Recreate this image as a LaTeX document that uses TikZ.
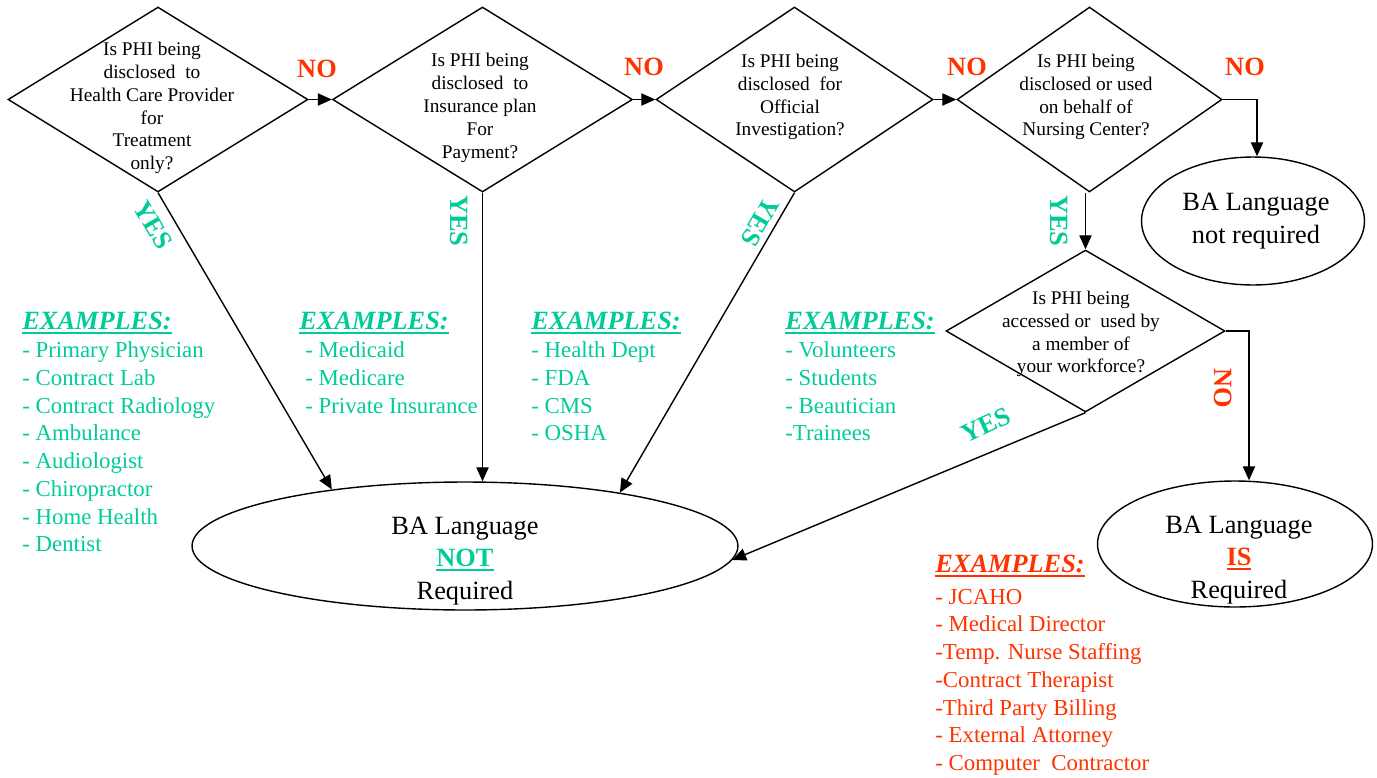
\documentclass[tikz,border=0pt]{standalone}
\usepackage{fontspec}
\setmainfont{Liberation Serif}
\usetikzlibrary{shapes.geometric}
\usetikzlibrary{arrows.meta}
\usepackage{xcolor}
\definecolor{grn}{RGB}{0,204,153}
\definecolor{rd}{RGB}{255,51,0}
\newcommand{\uln}[1]{\setbox0=\hbox{#1}\rlap{\rule[-2.2pt]{\wd0}{1pt}}\box0}
\newcommand{\exhead}{{\fontsize{15}{15.8}\selectfont\uln{\textbf{\textit{EXAMPLES:}}}}}

\begin{document}
\begin{tikzpicture}[x=0.02cm,y=-0.02cm,
    every node/.style={inner sep=0pt},
    question/.style={diamond,draw,line width=0.8pt,minimum height=3.7cm},
    answer/.style={ellipse,draw,line width=0.8pt},
    qtext/.style={font=\fontsize{11}{13}\selectfont,align=center},
    atext/.style={font=\fontsize{15}{18.4}\selectfont,align=center},
    yes/.style={text=grn,font=\fontsize{15}{15}\selectfont\bfseries},
    no/.style={text=rd,font=\fontsize{15}{15}\selectfont\bfseries},
    examples/.style={font=\fontsize{13}{15.8}\selectfont,align=left,anchor=north west},
    arr/.style={-{Triangle[length=8pt,width=7pt]},line width=0.8pt}]
  \useasboundingbox (0,0) rectangle (1377,778);

  % questions
  \node[question,minimum width=6cm] (d1) at (158,99.5) {};
  \node[question,minimum width=6cm] (d2) at (482.5,99.5) {};
  \node[question,minimum width=5.54cm] (d3) at (794.5,99.5) {};
  \node[question,minimum width=5.3cm] (d4) at (1089.5,99.5) {};
  \node[question,minimum width=5.58cm,minimum height=3.24cm] (d5) at (1085.5,331) {};

  \node[qtext] (q1) at (152,108) {Is PHI being\\disclosed\ \ to\\Health Care Provider\\for\\Treatment\\only?};
  \node[qtext] (q2) at (480,108) {Is PHI being\\disclosed\ \ to\\Insurance plan\\For\\Payment?};
  \node[qtext] (q3) at (790,97) {Is PHI being\\disclosed\ \ for\\Official\\Investigation?};
  \node[qtext] (q4) at (1086,97) {Is PHI being\\disclosed or used\\on behalf of\\Nursing Center?};
  \node[qtext] (q5) at (1081,334) {Is PHI being\\accessed or\ \ used by\\a member of\\your workforce?};

  % answers
  \node[answer,minimum width=10.92cm,minimum height=2.56cm] (e1) at (465,546) {};
  \node[answer,minimum width=4.46cm,minimum height=2.56cm] (e2) at (1253,221) {};
  \node[answer,minimum width=5.5cm,minimum height=2.52cm] (e3) at (1235,544) {};

  \node[atext] (a1) at (465,561) {BA Language\\{\color{grn}\uln{\textbf{NOT}}}\\Required};
  \node[atext] (a2) at (1256,221) {BA Language\\not required};
  \node[atext] (a3) at (1239,560) {BA Language\\{\color{rd}\uln{\textbf{IS}}}\\Required};

  % connectors
  \draw[arr] (d1.east) -- (d2.west);
  \draw[arr] (d2.east) -- (d3.west);
  \draw[arr] (d3.east) -- (d4.west);
  \draw[arr] (d4.east) -| ([xshift=0.08cm]e2.north);
  \draw[arr] (d4.south -| d5.north) -- (d5.north);
  \draw[arr] (d5.east) -| ([xshift=0.28cm]e3.north);
  \draw[arr] (d1.south) -- (e1.157);
  \draw[arr] (d2.south) -- (d2.south |- e1.north);
  \draw[arr] (d3.south) -- (e1.19);
  \draw[arr] (d5.south) -- (e1.357);

  % yes / no
  \foreach \x/\y [count=\i] in {317/69,644/67,967/67,1245/67}
    \node[no] (no\i) at (\x,\y) {NO};
  \node[no,rotate=-90] (no5) at (1223,388) {NO};
  \node[yes,rotate=-60] (yes1) at (153,225) {YES};
  \node[yes,rotate=-90] (yes2) at (459,221) {YES};
  \node[yes,rotate=240] (yes3) at (760,222) {YES};
  \node[yes,rotate=-90] (yes4) at (1059,221) {YES};
  \node[yes,rotate=25] (yes5) at (986,425) {YES};

  % examples
  \node[examples,text=grn] (ex1) at (22,312) {\exhead\\- Primary Physician\\- Contract Lab\\- Contract Radiology\\- Ambulance\\- Audiologist\\- Chiropractor\\- Home Health\\- Dentist};
  \node[examples,text=grn] (ex2) at (299,312) {\exhead\\\hspace*{3.4pt}- Medicaid\\\hspace*{3.4pt}- Medicare\\\hspace*{3.4pt}- Private Insurance};
  \node[examples,text=grn] (ex3) at (531,312) {\exhead\\- Health Dept\\- FDA\\- CMS\\- OSHA};
  \node[examples,text=grn] (ex4) at (785,312) {\exhead\\- Volunteers\\- Students\\- Beautician\\-Trainees};
  \node[examples,text=rd] (ex5) at (935,555) {\exhead\\[2pt]- JCAHO\\- Medical Director\\-Temp. Nurse Staffing\\-Contract Therapist\\-Third Party Billing\\- External Attorney\\- Computer\ \ Contractor};
\end{tikzpicture}
\end{document}
